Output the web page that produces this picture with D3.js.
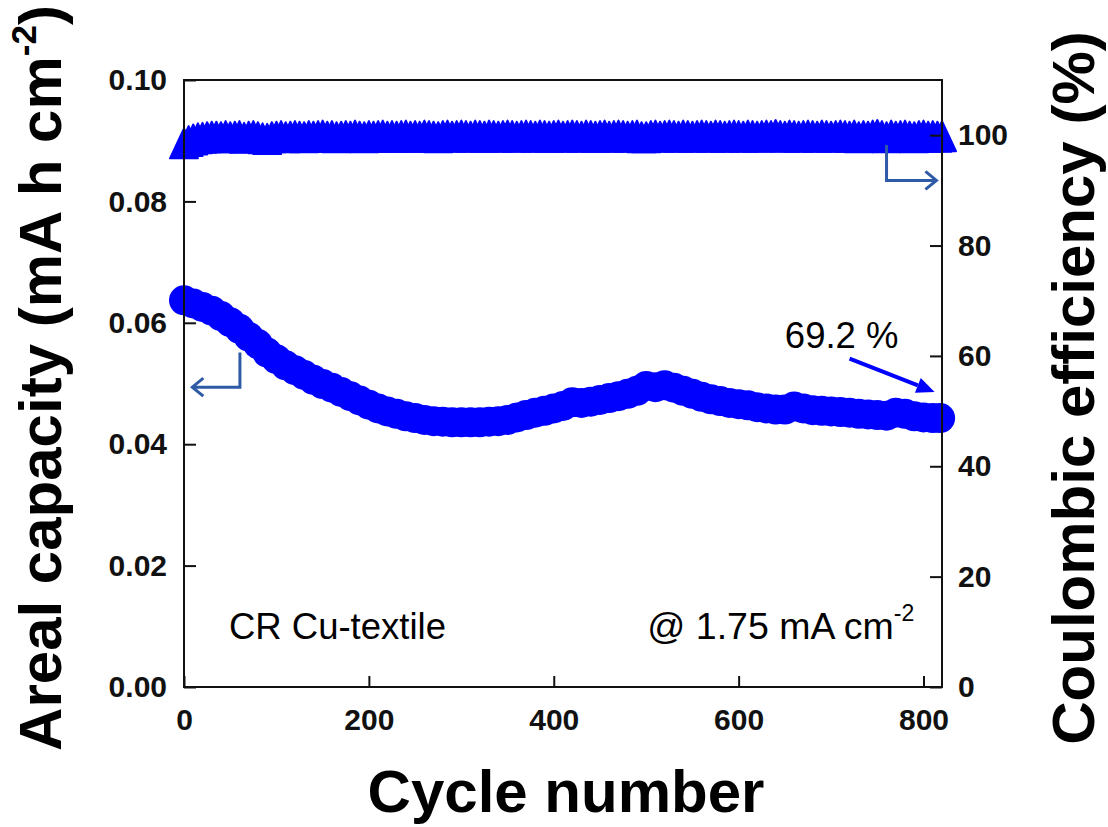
<!DOCTYPE html>
<html><head><meta charset="utf-8">
<script src="https://cdn.jsdelivr.net/npm/d3@7"></script>
<style>body{margin:0;background:#fff}svg{display:block}text{font-family:"Liberation Sans",Arial,sans-serif}</style>
</head><body>
<svg id="c" width="1108" height="827"></svg>
<script>
// ---- data ----
const cycles = d3.range(0, 820, 10).concat([818]);
const capacity = [0.0637,0.0632,0.0626,0.0620,0.0611,0.0601,0.0590,0.0577,0.0565,0.0551,
0.0540,0.0530,0.0522,0.0514,0.0506,0.0499,0.0493,0.0486,0.0479,0.0472,
0.0465,0.0459,0.0454,0.0450,0.0446,0.0443,0.0440,0.0438,0.0437,0.0436,
0.0436,0.0436,0.0436,0.0437,0.0438,0.0440,0.0444,0.0448,0.0452,0.0455,
0.0459,0.0463,0.0469,0.0468,0.0470,0.0473,0.0476,0.0479,0.0483,0.0488,
0.0496,0.0494,0.0497,0.0493,0.0488,0.0483,0.0478,0.0474,0.0471,0.0468,
0.0466,0.0464,0.0461,0.0459,0.0457,0.0457,0.0462,0.0459,0.0456,0.0455,
0.0454,0.0453,0.0452,0.0450,0.0449,0.0448,0.0447,0.0452,0.0450,0.0446,
0.0444,0.0443,0.0443];
const ceCycles = d3.range(0, 821, 5);
const efficiency = [97.8,98.2,98.5,98.7,98.8,98.9,99.0,99.0,98.9,99.1,
98.9,99.0,99.1,98.8,99.0,99.1,98.9,98.7,98.6,98.9,
99.0,99.1,98.9,99.0,99.1,99.0,98.9,99.1,99.0,99.1,
99.2,99.0,99.1,98.9,99.0,99.1,99.0,99.2,99.0,98.9,
99.1,99.0,99.1,99.2,99.0,99.1,99.0,99.1,99.2,99.0,
99.1,99.0,99.2,99.1,99.0,98.9,99.1,99.2,99.0,99.1,
99.2,99.1,99.0,99.2,99.1,99.0,99.2,99.1,99.0,99.1,
99.2,99.1,99.0,99.1,99.2,99.1,99.0,99.2,99.1,99.0,
99.1,99.2,99.0,99.1,99.2,99.1,99.0,99.2,99.1,99.0,
99.1,99.2,99.0,99.1,99.2,99.1,99.0,99.1,99.2,98.9,
98.9,99.1,99.2,99.0,99.1,99.2,99.1,99.0,99.2,99.1,
99.0,99.1,99.2,99.1,99.0,99.2,99.1,99.0,99.1,99.2,
99.1,99.0,99.2,99.1,99.0,99.1,99.2,99.1,99.3,99.1,
99.0,99.2,99.1,99.0,99.1,99.2,99.1,99.0,99.2,99.1,
99.0,99.1,99.2,99.1,99.0,99.2,98.9,99.1,99.0,99.2,
99.3,99.1,98.9,99.2,99.0,99.1,99.2,99.0,98.9,99.1,
99.2,99.0,99.1,99.0,99.1];
const xTicks = [0,200,400,600,800];
const yLeftTicks = [0.00,0.02,0.04,0.06,0.08,0.10];
const yRightTicks = [0,20,40,60,80,100];

// ---- layout ----
const svg = d3.select("#c");
const L=184, R=942, T=80, B=687;
const x = d3.scaleLinear().domain([0,820]).range([L,R]);
const yL = d3.scaleLinear().domain([0,0.1]).range([B,T]);
const yR = d3.scaleLinear().domain([0,110]).range([B,T]);
const blue = "#0000ff", arrowBlue = "#2f5aa6";

// CE triangles
const tri = (cx, cy) => `M${cx},${cy-19}L${cx-14},${cy+11}L${cx+14},${cy+11}Z`;
svg.append("g").selectAll("path").data(ceCycles).join("path")
  .attr("d", (c,i) => tri(x(c), yR(efficiency[i])))
  .attr("fill", blue).attr("stroke", blue).attr("stroke-width", 2).attr("stroke-linejoin","round");

// capacity circles
svg.append("g").selectAll("circle").data(cycles).join("circle")
  .attr("cx", c => x(c)).attr("cy", (c,i) => yL(capacity[i]))
  .attr("r", 15).attr("fill", blue);

// frame
svg.append("rect").attr("x",L).attr("y",T).attr("width",R-L).attr("height",B-T)
  .attr("fill","none").attr("stroke","#111").attr("stroke-width",2);

// axes
const fs = 30;
const gx = svg.append("g").attr("transform",`translate(0,${B})`)
  .call(d3.axisBottom(x).tickValues(xTicks).tickSize(-11).tickPadding(22).tickFormat(d3.format("d")));
const gl = svg.append("g").attr("transform",`translate(${L},0)`)
  .call(d3.axisLeft(yL).tickValues(yLeftTicks).tickSize(-12).tickPadding(17).tickFormat(d3.format(".2f")));
const gr = svg.append("g").attr("transform",`translate(${R},0)`)
  .call(d3.axisRight(yR).tickValues(yRightTicks).tickSize(-12).tickPadding(16).tickFormat(d3.format("d")));
[gx,gl,gr].forEach(g => {
  g.select(".domain").remove();
  g.selectAll(".tick line").attr("stroke","#111").attr("stroke-width",2);
  g.selectAll(".tick text").attr("font-size",fs).attr("font-weight","bold").attr("fill","#111")
   .attr("font-family",'"Liberation Sans",Arial,sans-serif');
});

// axis titles
svg.append("text").attr("x",566).attr("y",812).attr("text-anchor","middle")
  .attr("font-size",60).attr("font-weight","bold").text("Cycle number");
const tl = svg.append("text").attr("transform","translate(61,378) rotate(-90)")
  .attr("text-anchor","middle").attr("font-size",60).attr("font-weight","bold");
tl.append("tspan").text("Areal capacity (mA h cm");
tl.append("tspan").attr("font-size",35).attr("dy",-25).text("-2");
tl.append("tspan").attr("dy",25).text(")");
svg.append("text").attr("transform","translate(1094,388) rotate(-90)")
  .attr("text-anchor","middle").attr("font-size",60).attr("font-weight","bold")
  .text("Coulombic efficiency (%)");

// annotations
svg.append("text").attr("x",x(48.6)).attr("y",yL(0.0079)).attr("font-size",36.5).text("CR Cu-textile");
const t2 = svg.append("text").attr("x",x(790)).attr("y",yL(0.0079)).attr("text-anchor","end").attr("font-size",37.5);
t2.append("tspan").text("@ 1.75 mA cm");
t2.append("tspan").attr("font-size",23).attr("dy",-18).text("-2");
svg.append("text").attr("x",x(650)).attr("y",yL(0.0558)).attr("font-size",36.5).text("69.2 %");

// 69.2% arrow
const ax0 = x(720), ay0 = yL(0.0541), ax1 = x(812), ay1 = yL(0.0486);
const ang = Math.atan2(ay1-ay0, ax1-ax0);
const hl = 18, hw = 8;
const bx = ax1 - hl*Math.cos(ang), by = ay1 - hl*Math.sin(ang);
svg.append("line").attr("x1",ax0).attr("y1",ay0).attr("x2",bx).attr("y2",by)
  .attr("stroke",blue).attr("stroke-width",4);
svg.append("path").attr("d",`M${ax1},${ay1}L${bx+hw*Math.sin(ang)},${by-hw*Math.cos(ang)}L${bx-hw*Math.sin(ang)},${by+hw*Math.cos(ang)}Z`)
  .attr("fill",blue);

// axis indicator arrows
function indicator(xv, y0, y1, xEnd, dir){
  const p = d3.path();
  p.moveTo(xv,y0); p.lineTo(xv,y1); p.lineTo(xEnd,y1);
  svg.append("path").attr("d",p.toString()).attr("fill","none").attr("stroke",arrowBlue).attr("stroke-width",3);
  const h = 11*dir;
  svg.append("path").attr("d",`M${xEnd-h},${y1-9}L${xEnd},${y1}L${xEnd-h},${y1+9}`)
    .attr("fill","none").attr("stroke",arrowBlue).attr("stroke-width",3).attr("stroke-linejoin","miter");
}
indicator(x(60.5), yL(0.0551), yL(0.0494), x(9), -1);
indicator(x(760), yR(98.2), yR(91.8), x(814), 1);
</script>
</body></html>
